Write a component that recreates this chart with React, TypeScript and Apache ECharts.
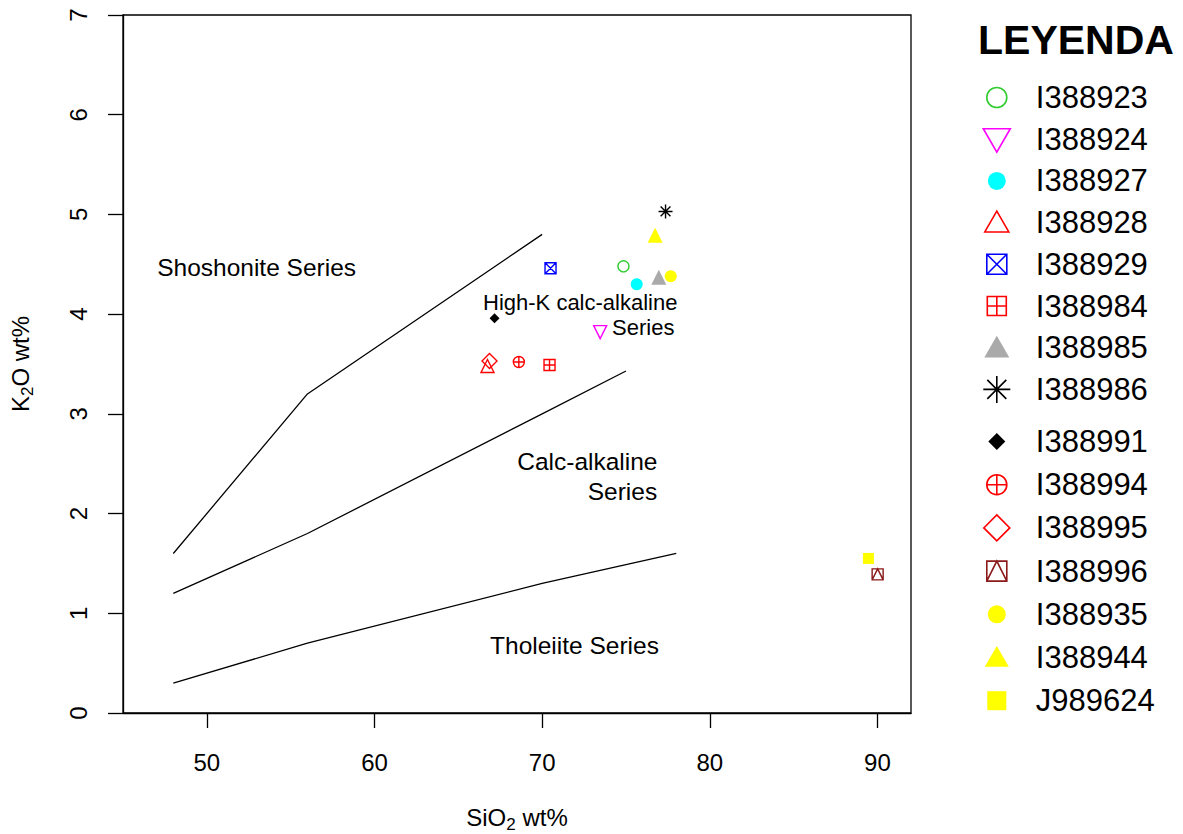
import React, { useEffect, useRef } from "react";
import * as echarts from "echarts";

const FONT = "'Liberation Sans', Arial, Helvetica, sans-serif";

// Sample identifiers, in legend order
const sampleNames = [
  "I388923", "I388924", "I388927", "I388928", "I388929", "I388984", "I388985", "I388986",
  "I388991", "I388994", "I388995", "I388996", "I388935", "I388944", "J989624",
];
// SiO2 (wt%) per sample
const sio2 = [74.85, 73.46, 75.64, 66.74, 70.5, 70.44, 76.96, 77.36, 67.16, 68.61, 66.86, 90.01, 77.67, 76.74, 89.46];
// K2O (wt%) per sample
const k2o = [4.48, 3.82, 4.3, 3.48, 4.46, 3.49, 4.37, 5.03, 3.96, 3.52, 3.53, 1.39, 4.38, 4.79, 1.55];

// Series boundaries (SiO2, K2O)
const shoshoniteBoundary = [[48, 1.6], [56, 3.2], [70, 4.8]];
const highKBoundary = [[48, 1.2], [56, 1.8], [70, 3.0], [75, 3.43]];
const tholeiiteBoundary = [[48, 0.3], [56, 0.7], [70, 1.3], [78, 1.6]];

// Field names and where they sit (SiO2, K2O)
const fieldTexts = ["Shoshonite Series", "High-K calc-alkaline", "Series", "Calc-alkaline", "Series", "Tholeiite Series"];
const fieldX = [52.97, 78.07, 77.89, 76.88, 76.86, 71.93];
const fieldY = [4.47, 4.117, 3.868, 2.527, 2.223, 0.68];

const xTicks = [50, 60, 70, 80, 90];

// Marker shapes (R-style plotting characters)
const P_TRI_UP = "path://M5,0 L10,8.66 L0,8.66 Z";
const P_TRI_DOWN = "path://M0,0 L10,0 L5,8.66 Z";
const P_BOX_X = "path://M0,0 L10,0 L10,10 L0,10 Z M0,0 L10,10 M10,0 L0,10";
const P_BOX_PLUS = "path://M0,0 L10,0 L10,10 L0,10 Z M5,0 L5,10 M0,5 L10,5";
const P_BOX_TRI = "path://M0,0 L10,0 L10,10 L0,10 Z M0,10 L5,0 L10,10";
const P_CIRC_PLUS = "path://M0,5 A5,5 0 1 1 10,5 A5,5 0 1 1 0,5 Z M5,0 L5,10 M0,5 L10,5";
const P_STAR = "path://M0,5 L10,5 M5,0 L5,10 M1.5,1.5 L8.5,8.5 M8.5,1.5 L1.5,8.5";

// Legend icons drawn inside a fixed 27x27 frame so each keeps its own size
const F = "path://M0,0 M27,27 ";
const circ = (r: number) => `M${13.5 - r},13.5 A${r},${r} 0 1 1 ${13.5 + r},13.5 A${r},${r} 0 1 1 ${13.5 - r},13.5 Z`;
const box = (h: number) => `M${13.5 - h},${13.5 - h} L${13.5 + h},${13.5 - h} L${13.5 + h},${13.5 + h} L${13.5 - h},${13.5 + h} Z`;
const triUp = (w: number) => {
  const h = w * 0.866;
  return `M13.5,${13.5 - h * 0.55} L${13.5 + w / 2},${13.5 + h * 0.45} L${13.5 - w / 2},${13.5 + h * 0.45} Z`;
};
const triDown = (w: number) => {
  const h = w * 0.866;
  return `M${13.5 - w / 2},${13.5 - h * 0.45} L${13.5 + w / 2},${13.5 - h * 0.45} L13.5,${13.5 + h * 0.55} Z`;
};
const diamond = (h: number) => `M13.5,${13.5 - h} L${13.5 + h},13.5 L13.5,${13.5 + h} L${13.5 - h},13.5 Z`;

const legendIcons = [
  F + circ(10),
  F + triDown(27),
  F + circ(9),
  F + triUp(24),
  F + box(10) + " M3.5,3.5 L23.5,23.5 M23.5,3.5 L3.5,23.5",
  F + box(9.5) + " M13.5,4 L13.5,23 M4,13.5 L23,13.5",
  F + triUp(25),
  F + "M0,13.5 L27,13.5 M13.5,0 L13.5,27 M4,4 L23,23 M23,4 L4,23",
  F + diamond(8.5),
  F + circ(10) + " M13.5,3.5 L13.5,23.5 M3.5,13.5 L23.5,13.5",
  F + diamond(13),
  F + box(10) + " M3.5,23.5 L13.5,3.5 L23.5,23.5",
  F + circ(9),
  F + triUp(24),
  F + box(9.5),
];

const markerStyles = [
  { symbol: "circle", size: 11, color: "#33CC33", open: true },
  { symbol: P_TRI_DOWN, size: 13, color: "#FF00FF", open: true },
  { symbol: "circle", size: 12, color: "#00FFFF", open: false },
  { symbol: P_TRI_UP, size: 13, color: "#FF0000", open: true },
  { symbol: P_BOX_X, size: 11, color: "#0000FF", open: true },
  { symbol: P_BOX_PLUS, size: 11, color: "#FF0000", open: true },
  { symbol: P_TRI_UP, size: 15, color: "#AAAAAA", open: false },
  { symbol: P_STAR, size: 14, color: "#000000", open: true },
  { symbol: "diamond", size: 10, color: "#000000", open: false },
  { symbol: P_CIRC_PLUS, size: 11, color: "#FF0000", open: true },
  { symbol: "diamond", size: 15, color: "#FF0000", open: true },
  { symbol: P_BOX_TRI, size: 11, color: "#8B1A1A", open: true },
  { symbol: "circle", size: 12, color: "#FFFF00", open: false },
  { symbol: P_TRI_UP, size: 15, color: "#FFFF00", open: false },
  { symbol: "rect", size: 11, color: "#FFFF00", open: false },
];

export default function App() {
  const ref = useRef<HTMLDivElement>(null);

  useEffect(() => {
    if (!ref.current) return;
    const chart = echarts.init(ref.current, null, { renderer: "svg" });

    const sampleSeries = sampleNames.map((name, i) => {
      const m = markerStyles[i];
      return {
        type: "scatter",
        name,
        data: [[sio2[i], k2o[i]]],
        symbol: m.symbol,
        symbolSize: m.size,
        z: 5,
        silent: true,
        itemStyle: m.open
          ? { color: "rgba(0,0,0,0)", borderColor: m.color, borderWidth: 1.4, opacity: 1 }
          : { color: m.color, borderWidth: 0, opacity: 1 },
      };
    });

    const boundarySeries = [shoshoniteBoundary, highKBoundary, tholeiiteBoundary].map((pts, i) => ({
      type: "line",
      name: "boundary" + i,
      data: pts,
      symbol: "none",
      silent: true,
      z: 3,
      lineStyle: { color: "#000", width: 1.3 },
    }));

    const labelSeries = {
      type: "scatter",
      name: "fields",
      symbolSize: 0,
      silent: true,
      z: 4,
      itemStyle: { opacity: 1 },
      data: fieldTexts.map((t, i) => ({
        value: [fieldX[i], fieldY[i]],
        label: {
          show: true,
          position: "inside",
          formatter: t,
          align: i === 0 || i === 5 ? "center" : "right",
          verticalAlign: "middle",
          fontSize: i === 1 || i === 2 ? 22 : 24.5,
          fontFamily: FONT,
          color: "#000",
          textBorderWidth: 0,
        },
      })),
    };

    const legendBase = {
      orient: "vertical",
      left: 982.5,
      itemWidth: 27,
      itemHeight: 27,
      padding: 0,
      selectedMode: false,
      textStyle: { fontSize: 31, lineHeight: 31, fontFamily: FONT, color: "#000", padding: [0, 0, 0, 20.5] },
      itemStyle: { borderWidth: 1.6 },
    };
    const legendData = sampleNames.map((name, i) => ({ name, icon: legendIcons[i] }));

    const axisName = (a: string, sub: string, b: string) => `{n|${a}}{s|${sub}}{n|${b}}`;
    const nameRich = {
      n: { fontSize: 24, fontFamily: FONT, color: "#000", lineHeight: 24, verticalAlign: "top" },
      s: { fontSize: 17, fontFamily: FONT, color: "#000", lineHeight: 17, padding: [11, 0, 0, 0], verticalAlign: "top" },
    };

    chart.setOption({
      animation: false,
      backgroundColor: "#fff",
      grid: {
        left: 123,
        right: 272,
        top: 15,
        bottom: 121,
        outerBoundsMode: "none",
        containLabel: false,
        show: true,
        borderColor: "#000",
        borderWidth: 1.3,
        backgroundColor: "transparent",
      },
      xAxis: {
        type: "value",
        min: 45,
        max: 92,
        name: axisName("SiO", "2", " wt%"),
        nameLocation: "middle",
        nameGap: 92,
        nameTextStyle: { rich: nameRich },
        axisLine: { show: true, onZero: false, lineStyle: { color: "#000", width: 1.3 } },
        axisTick: { show: true, length: 15, customValues: xTicks, lineStyle: { color: "#000", width: 1.3 } },
        axisLabel: { customValues: xTicks, fontSize: 24, color: "#000", fontFamily: FONT, margin: 37 },
        splitLine: { show: false },
      },
      yAxis: {
        type: "value",
        min: 0,
        max: 7,
        interval: 1,
        name: axisName("K", "2", "O wt%"),
        nameLocation: "middle",
        nameRotate: 90,
        nameGap: 91,
        nameTextStyle: { rich: nameRich },
        axisLine: { show: true, onZero: false, lineStyle: { color: "#000", width: 1.3 } },
        axisTick: { show: true, length: 15, lineStyle: { color: "#000", width: 1.3 } },
        axisLabel: { rotate: 90, fontSize: 24, color: "#000", fontFamily: FONT, margin: 33 },
        splitLine: { show: false },
      },
      legend: [
        { ...legendBase, top: 82, itemGap: 10.7, data: legendData.slice(0, 8) },
        { ...legendBase, top: 426, itemGap: 12.2, data: legendData.slice(8) },
      ],
      graphic: [
        {
          type: "text",
          x: 978,
          y: 40,
          style: {
            text: "LEYENDA",
            fontSize: 41,
            fontWeight: "bold",
            fontFamily: FONT,
            fill: "#000",
            verticalAlign: "middle",
          },
        },
      ],
      series: [...boundarySeries, labelSeries, ...sampleSeries],
    });

    return () => chart.dispose();
  }, []);

  return <div ref={ref} style={{ position: "fixed", left: 0, top: 0, width: 1183, height: 834 }} />;
}
